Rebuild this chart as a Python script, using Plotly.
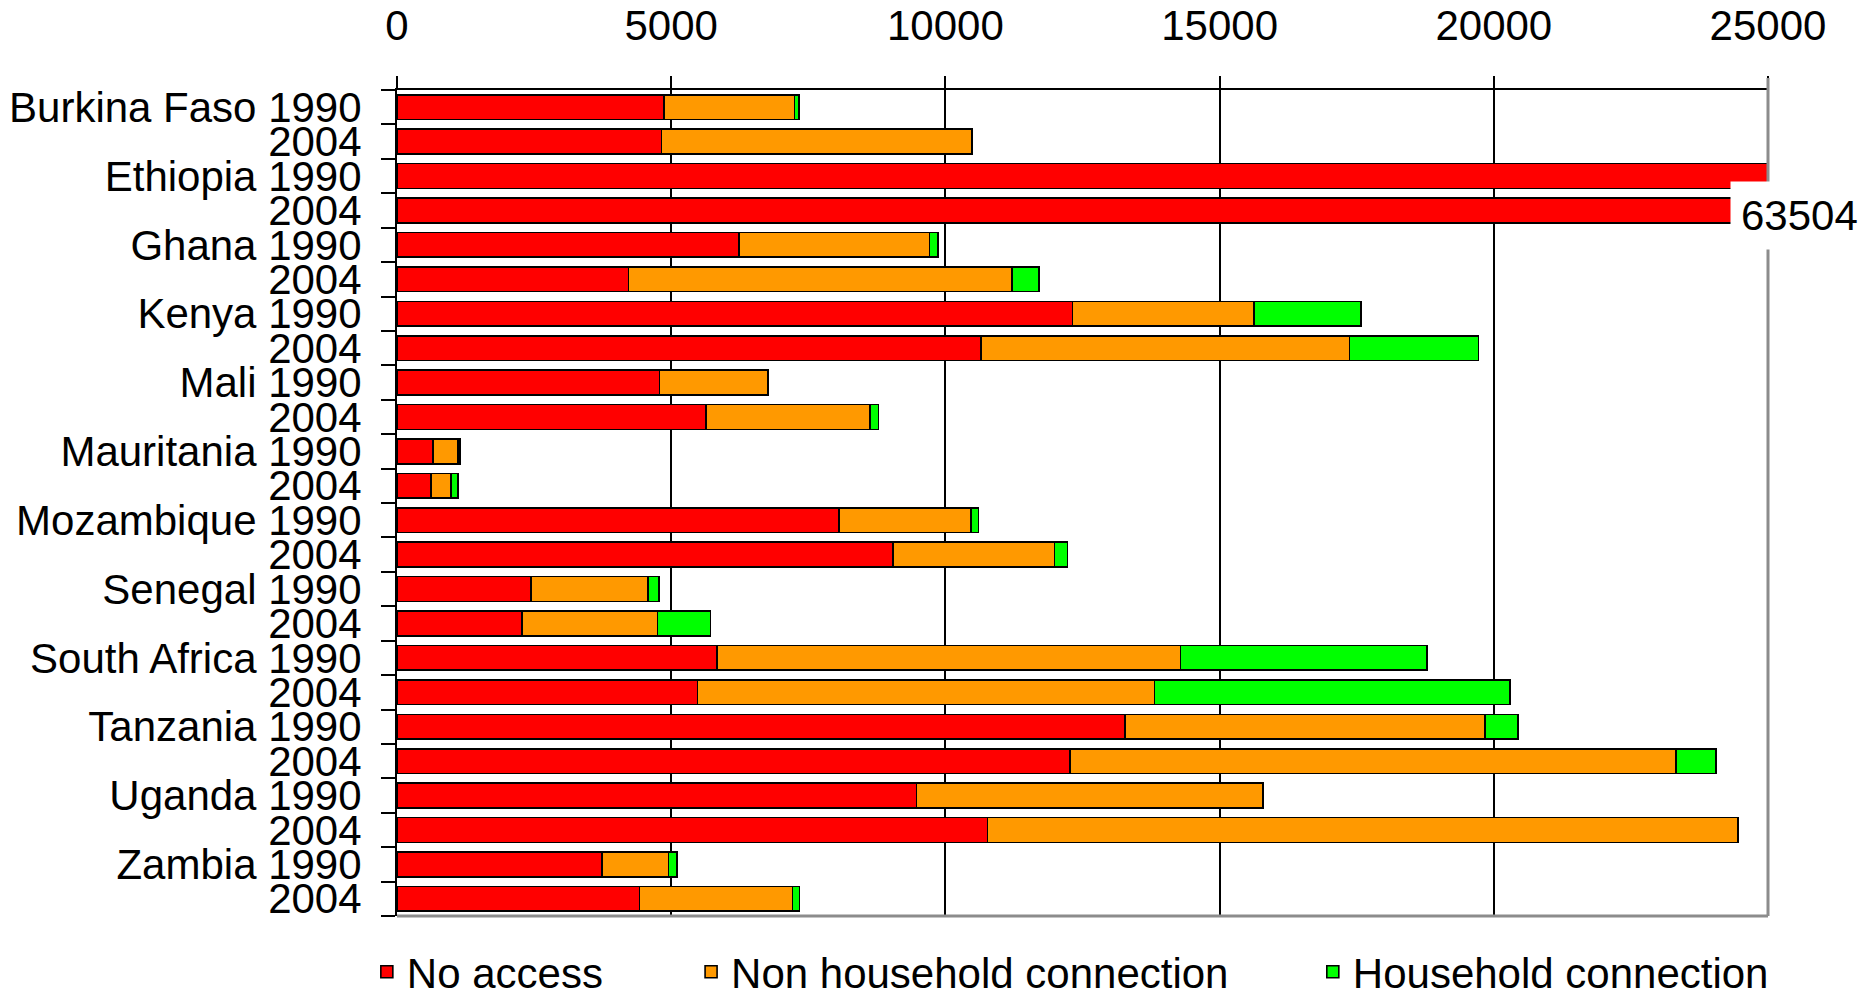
import plotly.graph_objects as go

# ---- data ----
countries = ["Burkina Faso", "Ethiopia", "Ghana", "Kenya", "Mali", "Mauritania",
             "Mozambique", "Senegal", "South Africa", "Tanzania", "Uganda", "Zambia"]
years = ["1990", "2004"]

row_labels = []
for c in countries:
    row_labels.append(c + " 1990")
    row_labels.append("2004")

no_access = [4870, 4820, 45000, 63504, 6240, 4220, 12320, 10650, 4790, 5630, 660, 620,
             8060, 9040, 2440, 2280, 5840, 5480, 13280, 12270, 9470, 10770, 3740, 4420]
non_household = [2380, 5660, 0, 0, 3470, 6990, 3310, 6720, 1980, 2990, 450, 360,
                 2410, 2950, 2140, 2470, 8450, 8330, 6560, 11050, 6320, 13680, 1210, 2790]
household = [80, 0, 0, 0, 160, 500, 1950, 2350, 0, 160, 40, 130,
             130, 240, 200, 970, 4490, 6480, 600, 730, 0, 0, 160, 130]

series_names = ["No access", "Non household connection", "Household connection"]
series_colors = ["#FF0000", "#FF9900", "#00FF00"]
x_ticks = [0, 5000, 10000, 15000, 20000, 25000]

FONT = "Liberation Sans, Arial, sans-serif"
FS = 42

idx = list(range(len(row_labels)))

fig = go.Figure()
legend_ids = ["legend", "legend2", "legend3"]
for vals, name, col, lg in zip([no_access, non_household, household], series_names,
                               series_colors, legend_ids):
    fig.add_trace(go.Bar(
        y=idx, x=vals, orientation="h", name=name,
        marker=dict(color=col, line=dict(color="black", width=1.6)),
        legend=lg, cliponaxis=True,
    ))

# label for the clipped Ethiopia 2004 bar
eth_i = 3
fig.add_annotation(x=24300, y=eth_i, xref="x", yref="y", text=str(no_access[eth_i]),
                   showarrow=False, xanchor="left", yanchor="middle", yshift=-5,
                   bgcolor="white", borderpad=10,
                   font=dict(family=FONT, size=FS, color="black"))

# grey right / bottom frame
fig.add_shape(type="line", xref="paper", yref="paper", x0=1, x1=1, y0=0, y1=1.0145,
              line=dict(color="#8c8c8c", width=3), layer="above")
fig.add_shape(type="line", xref="paper", yref="paper", x0=0, x1=1, y0=0, y1=0,
              line=dict(color="#8c8c8c", width=3), layer="above")

leg_common = dict(orientation="h", yanchor="middle", y=-0.0678, xanchor="left",
                  font=dict(family=FONT, size=FS, color="black"),
                  bgcolor="rgba(0,0,0,0)", borderwidth=0)

fig.update_layout(
    width=1862, height=991,
    margin=dict(l=397, r=94, t=90, b=75, autoexpand=False),
    paper_bgcolor="white", plot_bgcolor="white",
    barmode="stack", bargap=0.28,
    font=dict(family=FONT, size=FS, color="black"),
    showlegend=True,
    legend=dict(x=-0.022, **leg_common),
    legend2=dict(x=0.2145, **leg_common),
    legend3=dict(x=0.6680, **leg_common),
    xaxis=dict(
        side="top", range=[0, 25000], tickvals=x_ticks,
        ticktext=[str(v) for v in x_ticks],
        tickfont=dict(family=FONT, size=FS, color="black"),
        showgrid=True, gridcolor="black", gridwidth=1.5,
        showline=True, linecolor="black", linewidth=2,
        ticks="outside", ticklen=12, tickwidth=2, tickcolor="black",
        zeroline=False, ticklabelstandoff=19,
    ),
    yaxis=dict(
        range=[len(idx) - 0.5, -0.5], tickmode="array", tickvals=idx,
        ticktext=row_labels,
        tickfont=dict(family=FONT, size=FS, color="black"),
        ticks="", showgrid=False, zeroline=False,
        showline=True, linecolor="black", linewidth=2,
        minor=dict(tickmode="array", tickvals=[i - 0.5 for i in range(len(idx) + 1)],
                   ticks="outside", ticklen=14, tickwidth=2, tickcolor="black",
                   showgrid=False),
        ticklabelstandoff=25,
    ),
)

fig.write_html("out.html")
